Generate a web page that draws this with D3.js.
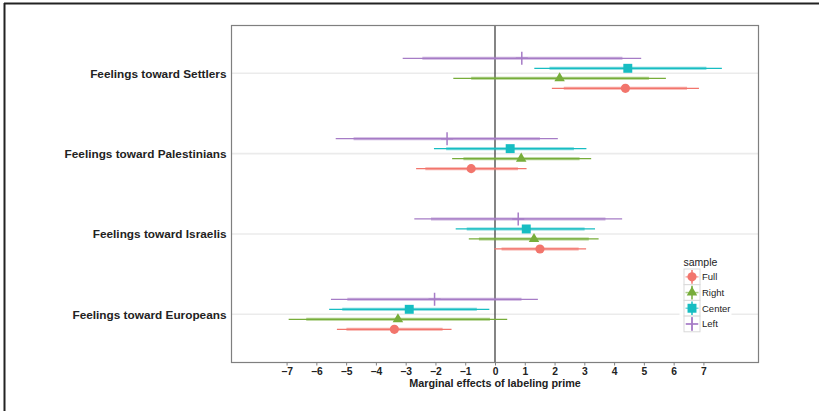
<!DOCTYPE html>
<html>
<head>
<meta charset="utf-8">
<script src="https://cdn.jsdelivr.net/npm/d3@7"></script>
<style>
html, body { margin: 0; padding: 0; background: #fff; overflow: hidden; width: 819px; height: 411px; }
svg { display: block; }
text { font-family: "Liberation Sans", Arial, sans-serif; }
</style>
</head>
<body>
<div class="chart"></div>
<script>
var categories = ["Feelings toward Settlers", "Feelings toward Palestinians", "Feelings toward Israelis", "Feelings toward Europeans"];
var samples = ["Left", "Center", "Right", "Full"];
var legendOrder = ["Full", "Right", "Center", "Left"];
var xTicks = [-7, -6, -5, -4, -3, -2, -1, 0, 1, 2, 3, 4, 5, 6, 7];

// each row: [lo95, lo90, estimate, hi90, hi95], one row per category
var fullVals = [[1.91, 2.31, 4.38, 6.45, 6.85], [-2.65, -2.34, -0.80, 0.77, 1.06], [-0.02, 0.22, 1.51, 2.81, 3.06], [-5.31, -4.99, -3.38, -1.76, -1.46]];
var rightVals = [[-1.40, -0.80, 2.17, 5.17, 5.74], [-1.44, -1.06, 0.88, 2.84, 3.23], [-0.88, -0.54, 1.31, 3.15, 3.48], [-6.93, -6.34, -3.26, -0.17, 0.41]];
var centerVals = [[1.32, 1.83, 4.46, 7.10, 7.62], [-2.05, -1.64, 0.51, 2.65, 3.07], [-1.32, -0.95, 1.05, 3.01, 3.36], [-5.57, -5.13, -2.88, -0.61, -0.19]];
var leftVals = [[-3.10, -2.44, 0.90, 4.28, 4.91], [-5.35, -4.75, -1.61, 1.51, 2.11], [-2.71, -2.15, 0.78, 3.71, 4.27], [-5.51, -4.96, -2.03, 0.89, 1.44]];

var valsBySample = {Full: fullVals, Right: rightVals, Center: centerVals, Left: leftVals};

function getColor(s) {
	switch (s) {
		case "Full": return "#F2756C";
		case "Right": return "#77AD3A";
		case "Center": return "#17BDC2";
		case "Left": return "#A67CC6";
	}
}

var rows = [];
samples.forEach(function(s) {
	valsBySample[s].forEach(function(v, i) {
		rows.push({sample: s, cat: categories[i], lo95: v[0], lo90: v[1], est: v[2], hi90: v[3], hi95: v[4]});
	});
});

var W = 819, H = 411;
var pLeft = 231.5, pRight = 758.5, pTop = 25.5, pBottom = 362.5;

var x = d3.scaleLinear().domain([-8.85, 8.85]).range([pLeft, pRight]);
var y = d3.scalePoint().domain(categories).range([73.3, 314.3]);
var dy = d3.scalePoint().domain(samples).range([-15, 15]);

var svg = d3.select(".chart").append("svg").attr("width", W).attr("height", H);

// outer frame (top and left edges visible)
svg.append("line").attr("x1", 4).attr("x2", W).attr("y1", 3.5).attr("y2", 3.5).attr("stroke", "#222").attr("stroke-width", 2);
svg.append("line").attr("x1", 4.5).attr("x2", 4.5).attr("y1", 3).attr("y2", H).attr("stroke", "#222").attr("stroke-width", 2);

// gridlines
svg.selectAll(".grid").data(categories).enter().append("line")
	.attr("x1", pLeft).attr("x2", pRight)
	.attr("y1", function(d) { return y(d); }).attr("y2", function(d) { return y(d); })
	.attr("stroke", "#ebebeb").attr("stroke-width", 1.6);

// zero line
svg.append("line").attr("x1", x(0)).attr("x2", x(0)).attr("y1", pTop).attr("y2", pBottom).attr("stroke", "#333").attr("stroke-width", 1.2);

// intervals
var g = svg.append("g");
g.selectAll(".ci95").data(rows).enter().append("line")
	.attr("x1", function(d) { return x(d.lo95); }).attr("x2", function(d) { return x(d.hi95); })
	.attr("y1", function(d) { return y(d.cat) + dy(d.sample); }).attr("y2", function(d) { return y(d.cat) + dy(d.sample); })
	.attr("stroke", function(d) { return getColor(d.sample); }).attr("stroke-width", 1.2);
g.selectAll(".ci90").data(rows).enter().append("line")
	.attr("x1", function(d) { return x(d.lo90); }).attr("x2", function(d) { return x(d.hi90); })
	.attr("y1", function(d) { return y(d.cat) + dy(d.sample); }).attr("y2", function(d) { return y(d.cat) + dy(d.sample); })
	.attr("stroke", function(d) { return getColor(d.sample); }).attr("stroke-width", 3).attr("stroke-opacity", 0.6);

function shapePath(s) {
	if (s == "Full") return d3.symbol().type(d3.symbolCircle).size(66)();
	if (s == "Right") return d3.symbol().type(d3.symbolTriangle).size(48)();
	if (s == "Center") return d3.symbol().type(d3.symbolSquare).size(80)();
	return "M0,-6.5V6.5M-6,0H6";
}

g.selectAll(".pt").data(rows).enter().append("path")
	.attr("d", function(d) { return shapePath(d.sample); })
	.attr("transform", function(d) { return "translate(" + x(d.est) + "," + (y(d.cat) + dy(d.sample)) + ")"; })
	.attr("fill", function(d) { return d.sample == "Left" ? "none" : getColor(d.sample); })
	.attr("stroke", function(d) { return d.sample == "Left" ? getColor(d.sample) : "none"; })
	.attr("stroke-width", 1.5);

// panel border
svg.append("rect").attr("x", pLeft).attr("y", pTop).attr("width", pRight - pLeft).attr("height", pBottom - pTop)
	.attr("fill", "none").attr("stroke", "#7f7f7f").attr("stroke-width", 1.2);

// x axis
var xa = svg.append("g").attr("transform", "translate(0," + pBottom + ")")
	.call(d3.axisBottom(x).tickValues(xTicks).tickSize(3).tickPadding(2));
xa.select(".domain").remove();
xa.selectAll(".tick line").attr("stroke", "#7f7f7f");
xa.selectAll(".tick text").attr("fill", "#222").style("font-size", "10.3px").style("font-weight", "bold");

svg.append("text").attr("x", x(0)).attr("y", 387).attr("text-anchor", "middle")
	.style("font-size", "10.8px").style("font-weight", "bold").attr("fill", "#222")
	.text("Marginal effects of labeling prime");

// y axis
var ya = svg.append("g").attr("transform", "translate(" + pLeft + ",0)")
	.call(d3.axisLeft(y).tickSize(0).tickPadding(5));
ya.select(".domain").remove();
ya.selectAll(".tick text").attr("fill", "#222").style("font-size", "11.8px").style("font-weight", "bold");

// legend
var lg = svg.append("g");
lg.append("rect").attr("x", 679.5).attr("y", 254).attr("width", 52).attr("height", 80).attr("fill", "#fff");
lg.append("text").attr("x", 683.5).attr("y", 266).style("font-size", "10.5px").attr("fill", "#222").text("sample");
var key = lg.selectAll(".key").data(legendOrder).enter().append("g")
	.attr("transform", function(d, i) { return "translate(684," + (269 + i * 15.7) + ")"; });
key.append("rect").attr("width", 16).attr("height", 15.7).attr("fill", "#fff").attr("stroke", "#d9d9d9").attr("stroke-width", 1);
key.append("line").attr("x1", 8).attr("x2", 8).attr("y1", 1).attr("y2", 14.7)
	.attr("stroke", function(d) { return getColor(d); }).attr("stroke-width", 1.5);
key.append("line").attr("x1", 1.5).attr("x2", 14.5).attr("y1", 7.85).attr("y2", 7.85)
	.attr("stroke", function(d) { return getColor(d); }).attr("stroke-width", 1.5).attr("stroke-opacity", 0.6);
key.append("path").attr("d", function(d) { return shapePath(d); })
	.attr("transform", "translate(8,7.85)")
	.attr("fill", function(d) { return d == "Left" ? "none" : getColor(d); })
	.attr("stroke", function(d) { return d == "Left" ? getColor(d) : "none"; })
	.attr("stroke-width", 1.5);
key.append("text").attr("x", 18).attr("y", 11.3).style("font-size", "9.5px").attr("fill", "#222")
	.text(function(d) { return d; });
</script>
</body>
</html>
